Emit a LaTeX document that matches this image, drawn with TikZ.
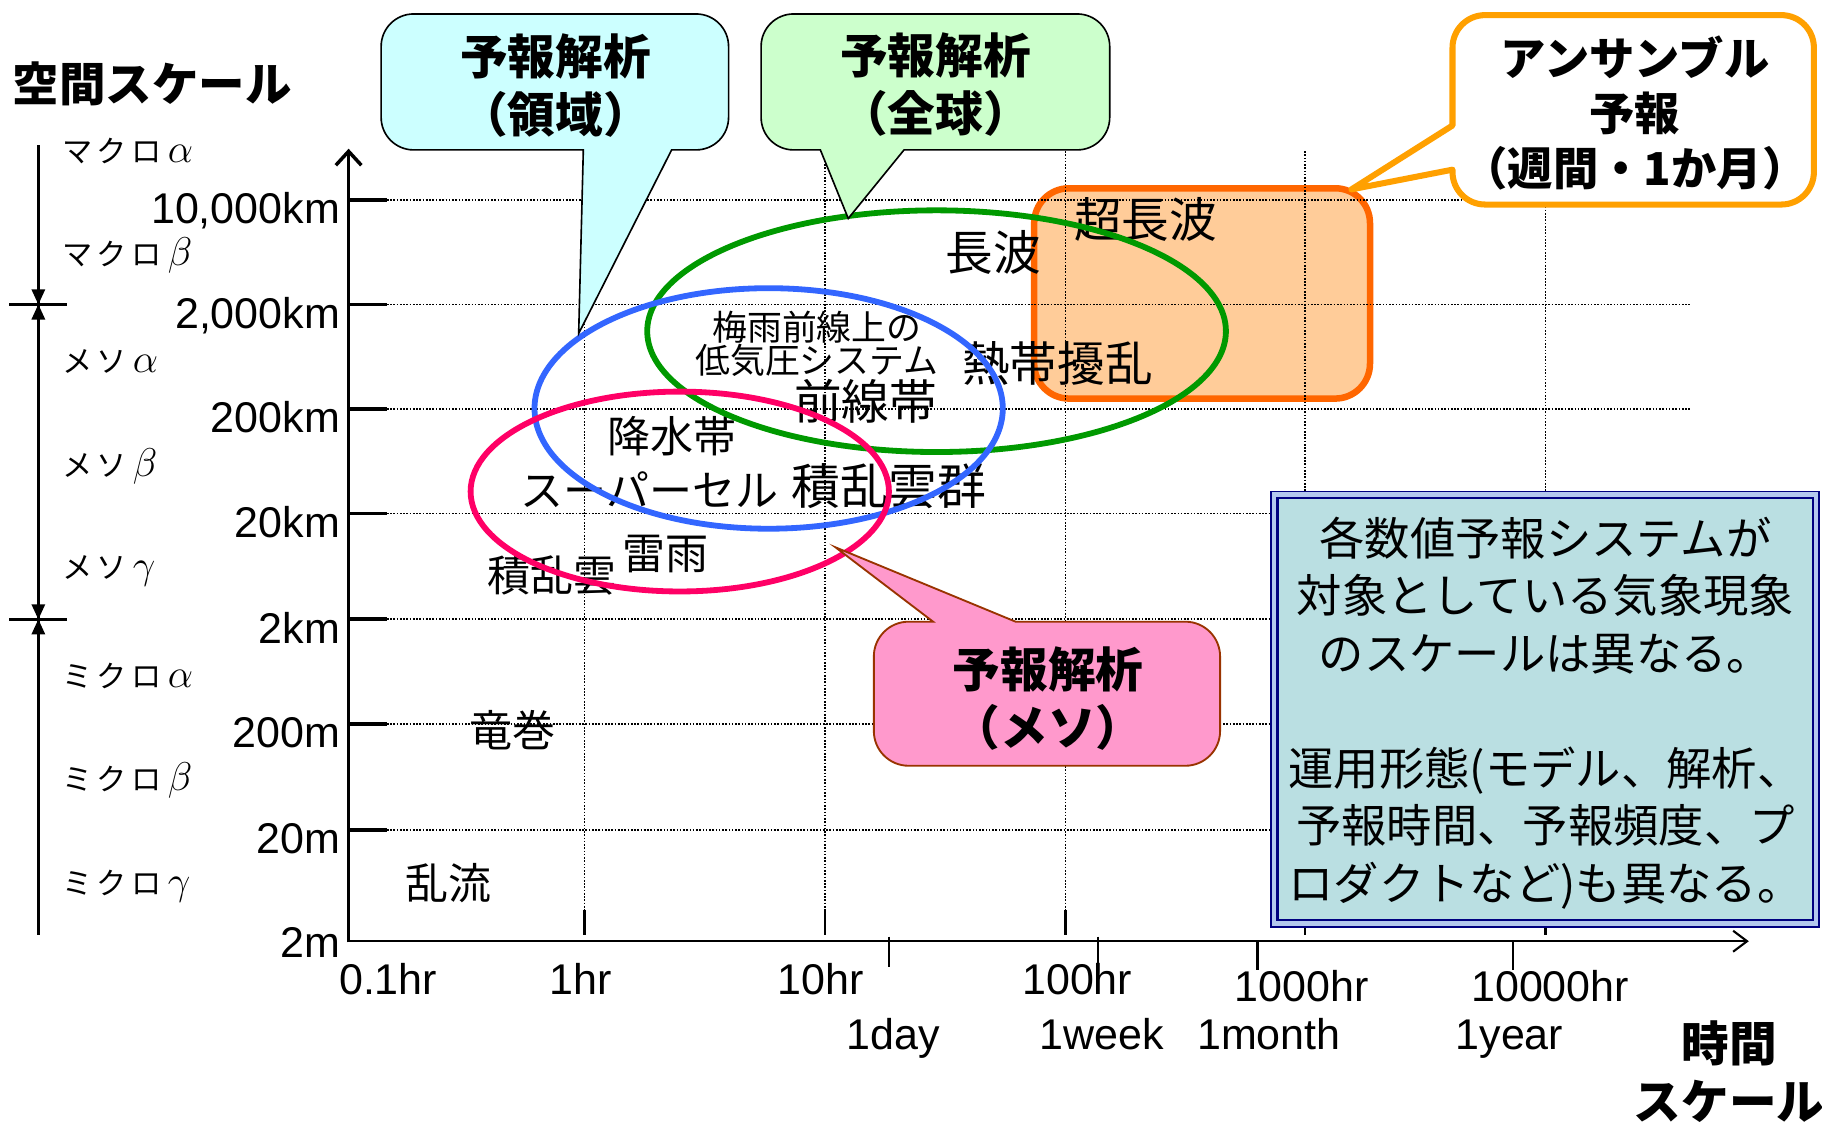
\documentclass[tikz,border=0pt]{standalone}
\usepackage{fontspec}
\setmainfont{Liberation Sans}
\newfontfamily\jp{Noto Sans CJK JP}
\usetikzlibrary{arrows.meta}
\definecolor{cyanf}{HTML}{CCFFFF}
\definecolor{greenf}{HTML}{CCFFCC}
\definecolor{ensline}{HTML}{FFA000}
\definecolor{obfill}{HTML}{FFCC99}
\definecolor{obline}{HTML}{FF6600}
\definecolor{pinkf}{HTML}{FF99CC}
\definecolor{pinkline}{HTML}{993300}
\definecolor{infof}{HTML}{BADFE2}
\definecolor{gapb}{HTML}{B4C8EE}
\definecolor{navyb}{HTML}{000080}
\definecolor{ellg}{HTML}{009900}
\definecolor{ellb}{HTML}{3366FF}
\definecolor{ellr}{HTML}{FF0066}
\newcommand\grk[1]{{\fontsize{17pt}{17pt}\selectfont$#1$}}
\begin{document}
\begin{tikzpicture}[x=0.5pt,y=-0.5pt,
  grid/.style={line width=0.75pt, dash pattern=on 0.7pt off 0.7pt},
  num/.style={font=\fontsize{18.5pt}{20pt}\selectfont, inner sep=0pt},
  lbl/.style={font=\jp\fontsize{18.5pt}{20pt}\selectfont, inner sep=0pt},
  lblbig/.style={font=\jp\fontsize{20.5pt}{22pt}\selectfont, inner sep=0pt},
  scl/.style={font=\jp\fontsize{13pt}{14pt}\selectfont, inner sep=0pt, anchor=west},
  callt/.style={font=\jp\bfseries\fontsize{20.5pt}{25pt}\selectfont, align=center, inner sep=0pt},
  ell/.style={line width=2.5pt},
  callline/.style={line width=0.7pt, line join=miter}
]
\useasboundingbox (0,0) rectangle (1568,966);

% orange (super long wave) box
\draw[fill=obfill, draw=obline, line width=2.8pt]
  (920,162) -- (1149,162) .. controls (1165.6,162) and (1179,175.4) .. (1179,192)
  -- (1179,313) .. controls (1179,329.6) and (1165.6,343) .. (1149,343)
  -- (920,343) .. controls (903.4,343) and (890,329.6) .. (890,313)
  -- (890,192) .. controls (890,175.4) and (903.4,162) .. (920,162) -- cycle;

% grid
\foreach \y in {172,262,352,442,533,623,714} \draw[grid] (333,\y) -- (1455,\y);
\foreach \x in {503,710,917,1123,1330} {
  \draw[grid] (\x,130) -- (\x,783);
  \draw[line width=1.1pt] (\x,783) -- (\x,805);
}

% axes
\draw[line width=1.5pt, -{Straight Barb[length=6pt,width=11pt,line width=1.5pt]}] (300,811) -- (300,128);
\draw[line width=0.9pt, -{Straight Barb[length=6pt,width=9pt,line width=0.9pt]}] (299,810) -- (1505,810);
\foreach \y in {172,262,352,442,533,623,714} \draw[line width=1.6pt] (300,\y) -- (333,\y);
\draw[line width=1.1pt] (765,806) -- (765,832);
\draw[line width=1.1pt] (945,806) -- (945,843);
\draw[line width=1.1pt] (1082,810) -- (1082,835);
\draw[line width=1.1pt] (1302,810) -- (1302,835);

% y labels
\node[num, anchor=base east] (y1) at (293,192.5) {10,000km};
\node[num, anchor=base east] (y2) at (293,282.5) {2,000km};
\node[num, anchor=base east] (y3) at (293,372.5) {200km};
\node[num, anchor=base east] (y4) at (293,462.5) {20km};
\node[num, anchor=base east] (y5) at (293,553.5) {2km};
\node[num, anchor=base east] (y6) at (293,643.5) {200m};
\node[num, anchor=base east] (y7) at (293,734.5) {20m};
\node[num, anchor=base east] (y8) at (293,824) {2m};

% x labels
\node[num, anchor=base] (x0) at (334,856) {0.1hr};
\node[num, anchor=base] (x1) at (500,856) {1hr};
\node[num, anchor=base] (x2) at (706,856) {10hr};
\node[num, anchor=base] (x3) at (927,856) {100hr};
\node[num, anchor=base] (x4) at (1120,862) {1000hr};
\node[num, anchor=base] (x5) at (1334,862) {10000hr};
\node[num, anchor=base] (d1) at (769,903) {1day};
\node[num, anchor=base] (d2) at (948,903) {1week};
\node[num, anchor=base] (d3) at (1092,903) {1month};
\node[num, anchor=base] (d4) at (1299,903) {1year};

\node[font=\jp\bfseries\fontsize{20.5pt}{25pt}\selectfont, inner sep=0pt, align=center] (tlab) at (1488,922) {時間\\スケール};
\node[font=\jp\bfseries\fontsize{20pt}{22pt}\selectfont, inner sep=0pt] (slab) at (131,72) {空間スケール};

% left scale bar
\draw[line width=1.2pt] (33,125) -- (33,805);
\draw[line width=1.2pt] (8,262) -- (58,262);
\draw[line width=1.2pt] (8,533) -- (58,533);
\fill (27,249) -- (39,249) -- (33,262) -- cycle;
\fill (27,275) -- (39,275) -- (33,262) -- cycle;
\fill (27,520) -- (39,520) -- (33,533) -- cycle;
\fill (27,546) -- (39,546) -- (33,533) -- cycle;
\node[scl] (s1) at (53,130) {マ\hspace{2pt}ク\hspace{2pt}ロ\hspace{2.5pt}\grk{\alpha}};
\node[scl] (s2) at (53,220) {マ\hspace{2pt}ク\hspace{2pt}ロ\hspace{2.5pt}\grk{\beta}};
\node[scl] (s3) at (53,311) {メ\hspace{2pt}ソ\hspace{2.5pt}\grk{\alpha}};
\node[scl] (s4) at (53,401) {メ\hspace{2pt}ソ\hspace{2.5pt}\grk{\beta}};
\node[scl] (s5) at (53,491) {メ\hspace{2pt}ソ\hspace{2.5pt}\grk{\gamma}};
\node[scl] (s6) at (53,582) {ミ\hspace{2pt}ク\hspace{2pt}ロ\hspace{2.5pt}\grk{\alpha}};
\node[scl] (s7) at (53,672) {ミ\hspace{2pt}ク\hspace{2pt}ロ\hspace{2.5pt}\grk{\beta}};
\node[scl] (s8) at (53,763) {ミ\hspace{2pt}ク\hspace{2pt}ロ\hspace{2.5pt}\grk{\gamma}};

% phenomena labels
\node[lblbig] (p1) at (855,217) {長波};
\node[lblbig] (p2) at (986,189) {超長波};
\node[font=\jp\fontsize{15pt}{14pt}\selectfont, inner sep=0pt, align=center] (p3) at (703,296) {梅雨前線上の\\低気圧システム};
\node[lblbig] (p4) at (745,345) {前線帯};
\node[lblbig] (p5) at (910,313) {熱帯擾乱};
\node[lbl] (p6) at (578,375) {降水帯};
\node[lbl] (p7) at (559,421) {スーパーセル};
\node[font=\jp\fontsize{21pt}{22pt}\selectfont, inner sep=0pt] (p8) at (765,418) {積乱雲群};
\node[lbl] (p9) at (573,477) {雷雨};
\node[lbl] (p10) at (475,495) {積乱雲};
\node[lbl] (p11) at (441,628) {竜巻};
\node[lbl] (p12) at (386,760) {乱流};

% ellipses
\draw[ell, ellg] (806,285) ellipse [x radius=124.5pt, y radius=52pt];
\draw[ell, ellb] (661.5,351.5) ellipse [x radius=100.75pt, y radius=51.75pt];
\draw[ell, ellr] (585,423) ellipse [x radius=90pt, y radius=43pt];

% callout: regional
\draw[callline, fill=cyanf]
  (502,129) -- (498,287) -- (578,129) -- (599,129) .. controls (614.5,129) and (627,116.5) .. (627,101)
  -- (627,40) .. controls (627,24.5) and (614.5,12) .. (599,12)
  -- (356,12) .. controls (340.5,12) and (328,24.5) .. (328,40)
  -- (328,101) .. controls (328,116.5) and (340.5,129) .. (356,129) -- cycle;
\node[callt] (c1) at (478,74) {予報解析\\（領域）};

% callout: global
\draw[callline, fill=greenf]
  (706,129) -- (730,188) -- (778,129) -- (927,129) .. controls (942.5,129) and (955,116.5) .. (955,101)
  -- (955,40) .. controls (955,24.5) and (942.5,12) .. (927,12)
  -- (683,12) .. controls (667.5,12) and (655,24.5) .. (655,40)
  -- (655,101) .. controls (655,116.5) and (667.5,129) .. (683,129) -- cycle;
\node[callt] (c2) at (805,73) {予報解析\\（全球）};

% callout: ensemble
\draw[draw=ensline, line width=2.6pt, line join=round, fill=white]
  (1250,108) -- (1163,163) -- (1250,146) -- (1250,148) .. controls (1250,163.5) and (1262.5,176) .. (1278,176)
  -- (1533,176) .. controls (1548.5,176) and (1561,163.5) .. (1561,148)
  -- (1561,41) .. controls (1561,25.5) and (1548.5,13) .. (1533,13)
  -- (1278,13) .. controls (1262.5,13) and (1250,25.5) .. (1250,41) -- cycle;
\node[font=\jp\bfseries\fontsize{19.5pt}{23.75pt}\selectfont, align=center, inner sep=0pt] (c3) at (1407,97.5) {アンサンブル\\予報\\（週間・1か月）};

% callout: meso
\draw[line width=0.8pt, draw=pinkline, fill=pinkf]
  (803,535) -- (719,471) -- (874,535) -- (1020,535) .. controls (1036.6,535) and (1050,548.4) .. (1050,565)
  -- (1050,629) .. controls (1050,645.6) and (1036.6,659) .. (1020,659)
  -- (782,659) .. controls (765.4,659) and (752,645.6) .. (752,629)
  -- (752,565) .. controls (752,548.4) and (765.4,535) .. (782,535) -- cycle;
\node[callt] (c4) at (902,601) {予報解析\\（メソ）};

% info box
\draw[draw=navyb, line width=0.8pt, fill=gapb] (1094,423) rectangle (1565.5,797.5);
\draw[draw=navyb, line width=1pt, fill=infof] (1099.5,428.5) rectangle (1560,792);
\node[font=\jp\fontsize{19.5pt}{24.75pt}\selectfont, align=center, inner sep=0pt] (info) at (1330,613.5)
  {各数値予報システムが\\対象としている気象現象\\のスケールは異なる。\\[24.75pt]運用形態(モデル、解析、\\予報時間、予報頻度、プ\\ロダクトなど)も異なる。};
\end{tikzpicture}
\end{document}
